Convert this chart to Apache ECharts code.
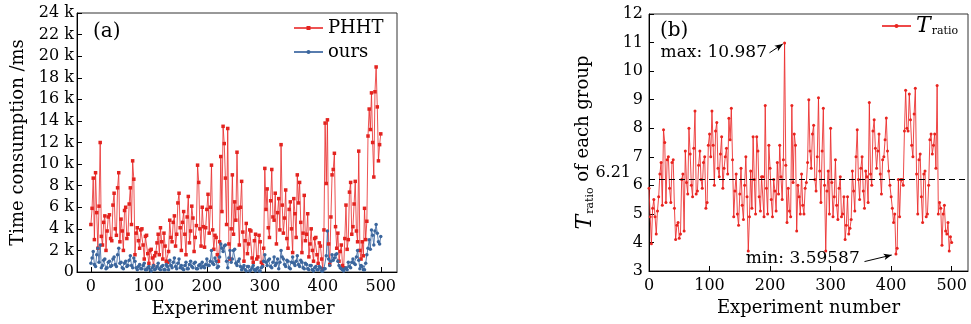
<!DOCTYPE html>
<html>
<head>
<meta charset="utf-8">
<script src="https://cdn.jsdelivr.net/npm/echarts@6/dist/echarts.min.js"></script>
<style>
  html, body { margin: 0; padding: 0; background: #fff; }
  #chart { width: 971px; height: 324px; }
</style>
</head>
<body>
<div id="chart"></div>
<script>
// experiment numbers are sampled every 2nd run (0, 2, 4 ... 500)
const expStep = 2;
const expTicks = [0, 100, 200, 300, 400, 500];

// panel (a): time consumption in k ms
const phht = [
  4.4, 5.9, 8.7, 3.0, 9.2, 5.5, 2.2, 6.1, 12.0, 3.3,
  2.5, 4.6, 5.2, 2.0, 3.8, 5.1, 5.3, 3.1, 2.9, 6.2,
  7.3, 4.0, 3.4, 7.8, 9.2, 2.8, 4.9, 3.8, 2.0, 5.7,
  6.0, 3.1, 3.5, 6.3, 7.8, 4.4, 10.3, 8.6, 1.6, 3.6,
  4.1, 2.9, 2.2, 3.9, 4.0, 2.5, 1.2, 3.3, 3.4, 1.7,
  0.8, 2.0, 2.1, 1.3, 0.6, 1.5, 1.8, 2.7, 3.5, 1.6,
  4.1, 2.8, 1.2, 3.6, 2.4, 1.0, 0.9, 1.9, 4.8, 3.2,
  2.8, 4.6, 5.2, 2.4, 3.5, 6.4, 7.3, 4.1, 2.0, 4.6,
  5.6, 3.5, 1.6, 5.1, 7.0, 2.7, 3.8, 6.1, 5.0, 1.9,
  3.2, 4.3, 9.9, 8.3, 4.0, 2.4, 6.0, 4.2, 2.3, 4.1,
  5.8, 7.2, 3.6, 6.0, 9.9, 3.9, 2.1, 3.4, 3.2, 1.6,
  1.0, 2.8, 10.7, 5.6, 13.5, 11.9, 8.7, 4.4, 13.3, 2.6,
  1.2, 4.0, 9.0, 3.5, 6.5, 4.8, 11.1, 5.9, 2.5, 6.0,
  8.4, 3.7, 1.0, 2.9, 4.5, 1.7, 2.6, 3.9, 3.8, 1.3,
  0.9, 2.9, 3.5, 1.2, 1.4, 3.4, 2.8, 0.9, 0.6, 2.2,
  9.6, 5.8, 7.7, 4.1, 3.2, 6.6, 9.5, 5.1, 4.8, 7.3,
  2.6, 5.5, 6.8, 3.9, 11.8, 6.2, 3.6, 5.0, 7.6, 3.1,
  2.2, 5.8, 6.5, 4.0, 1.8, 6.8, 5.4, 3.2, 9.0, 6.4,
  8.3, 4.6, 1.8, 3.6, 7.1, 2.9, 3.5, 5.4, 1.4, 2.6,
  4.0, 2.0, 1.0, 3.1, 3.2, 1.6, 0.8, 2.7, 2.4, 1.2,
  0.3, 3.9, 13.8, 8.2, 14.1, 2.6, 0.7, 5.1, 9.0, 9.5,
  11.0, 4.2, 2.2, 3.6, 1.0, 1.9, 2.5, 0.6, 0.4, 3.1,
  6.2, 2.1, 3.0, 7.4, 8.3, 3.5, 4.2, 6.3, 8.4, 3.8,
  2.8, 11.2, 2.0, 1.2, 2.8, 1.5, 5.9, 3.0, 4.7, 12.6,
  15.1, 13.2, 16.6, 12.0, 8.8, 16.7, 19.0, 15.3, 10.3, 11.8,
  12.8
];
const ours = [
  0.8, 1.3, 1.9, 0.7, 0.5, 1.6, 2.2, 0.9, 2.5, 0.4,
  0.6, 1.1, 1.2, 0.3, 0.4, 0.9, 1.0, 0.5, 0.6, 1.2,
  1.4, 0.7, 0.5, 1.6, 2.2, 0.8, 0.9, 0.4, 0.3, 0.8,
  1.0, 0.5, 0.6, 1.1, 1.5, 0.6, 0.4, 1.3, 1.0, 0.4,
  0.2, 0.5, 0.7, 0.3, 0.3, 0.6, 0.8, 0.2, 0.2, 0.4,
  0.5, 0.2, 0.1, 0.4, 0.6, 0.2, 0.3, 0.5, 0.8, 0.3,
  0.2, 0.5, 0.6, 0.2, 0.2, 0.7, 0.5, 0.2, 1.1, 0.6,
  0.4, 0.9, 1.3, 0.5, 0.3, 0.8, 1.2, 0.4, 0.6, 0.3,
  0.2, 0.6, 0.9, 0.3, 0.3, 0.7, 1.0, 0.5, 0.4, 0.8,
  0.9, 0.3, 0.3, 0.6, 0.7, 0.4, 0.9, 0.5, 0.4, 0.7,
  1.2, 0.6, 0.6, 1.0, 2.0, 0.8, 0.7, 1.3, 1.0, 0.4,
  0.5, 1.4, 2.6, 2.2, 1.9, 2.4, 2.5, 1.0, 0.4, 1.3,
  2.0, 0.9, 1.2, 2.0, 2.1, 0.8, 0.6, 1.0, 1.2, 0.5,
  0.2, 0.4, 0.6, 0.2, 0.1, 0.5, 0.5, 0.1, 0.2, 0.4,
  0.6, 0.2, 0.1, 0.3, 0.4, 0.1, 0.1, 0.4, 0.5, 1.0,
  1.6, 0.9, 0.6, 1.1, 1.2, 0.5, 0.4, 0.9, 1.4, 0.6,
  0.8, 1.2, 0.3, 0.9, 2.0, 1.4, 1.2, 0.7, 0.5, 1.1,
  1.0, 0.4, 0.3, 0.9, 1.4, 0.8, 0.6, 1.0, 1.5, 0.7,
  0.5, 1.1, 0.9, 0.4, 0.3, 0.8, 0.7, 0.3, 0.2, 0.6,
  0.6, 0.2, 0.1, 0.4, 0.5, 0.2, 0.2, 0.5, 0.4, 0.1,
  0.1, 0.3, 0.3, 1.5, 3.8, 1.2, 0.6, 1.0, 1.6, 1.1,
  1.3, 1.6, 1.7, 1.0, 0.6, 0.4, 0.3, 0.2, 0.1, 0.3,
  0.4, 0.2, 0.9, 0.5, 0.4, 0.9, 1.2, 0.8, 0.7, 1.4,
  2.0, 1.1, 0.3, 0.6, 0.5, 0.2, 0.2, 0.8, 1.6, 2.2,
  3.0, 2.1, 3.9, 3.4, 2.5, 3.8, 4.4, 3.6, 2.8, 2.6,
  3.3
];

// panel (b): T_ratio of each group
const tRatio = [
  5.9, 4.9, 3.95, 5.2, 5.5, 4.9, 4.3, 5.1, 5.6, 6.4,
  6.8, 5.3, 7.95, 7.5, 5.4, 6.9, 7.0, 5.9, 5.4, 6.8,
  6.9, 5.2, 4.1, 4.6, 4.7, 4.15, 4.3, 6.2, 6.4, 4.4,
  7.2, 6.1, 5.7, 8.0, 7.1, 6.0, 5.6, 7.3, 8.6, 5.7,
  5.8, 6.7, 7.2, 6.2, 5.9, 6.8, 7.0, 5.2, 5.4, 7.4,
  7.8, 7.0, 8.6, 7.4, 6.0, 7.9, 8.2, 6.6, 6.3, 7.1,
  7.7, 5.9, 6.6, 7.0, 7.3, 6.4, 8.35, 7.6, 8.7, 6.9,
  4.9, 5.8, 6.4, 5.0, 4.6, 5.7, 6.6, 5.3, 4.8, 6.0,
  7.0, 5.6, 3.7, 4.9, 6.5, 5.2, 7.7, 6.2, 5.0, 7.7,
  7.2, 5.6, 5.1, 6.3, 6.3, 4.9, 8.8, 5.9, 5.0, 7.4,
  6.6, 5.5, 4.9, 6.2, 5.8, 5.1, 6.8, 5.7, 7.4, 6.3,
  5.5, 6.9, 10.987, 6.7, 4.7, 5.9, 5.1, 4.9, 8.8, 6.1,
  7.8, 7.4, 4.4, 6.0, 5.6, 5.0, 6.4, 5.3, 5.0, 5.9,
  6.1, 6.8, 9.0, 7.2, 6.6, 7.8, 8.1, 6.2, 5.8, 7.0,
  9.07, 6.5, 5.4, 7.2, 8.7, 6.0, 3.7, 5.8, 6.5, 5.0,
  8.0, 6.1, 4.9, 5.6, 6.9, 5.3, 4.8, 5.9, 6.3, 4.9,
  5.0, 5.6, 4.1, 4.6, 5.6, 4.3, 4.5, 4.8, 6.5, 5.8,
  5.1, 7.0, 7.95, 6.2, 5.5, 6.6, 7.0, 5.8, 5.2, 6.5,
  6.3, 5.4, 8.9, 6.4, 6.0, 7.9, 8.3, 7.3, 6.6, 7.2,
  7.8, 6.4, 5.7, 6.9, 7.0, 7.6, 8.36, 7.2, 6.5, 6.0,
  5.6, 5.2, 4.7, 5.0, 3.59587, 3.8, 6.2, 4.9, 6.2, 6.2,
  6.0, 7.9, 9.33, 8.0, 7.9, 9.2, 8.3, 7.4, 7.0, 8.5,
  9.4, 6.4, 5.0, 6.9, 7.1, 5.6, 4.7, 6.4, 6.5, 4.9,
  5.0, 6.0, 7.6, 7.8, 7.1, 7.4, 7.8, 6.6, 9.5, 5.0,
  5.4, 5.2, 3.9, 5.0, 5.3, 4.4, 4.3, 4.7, 3.7, 4.2,
  4.0
];
const meanRatio = 6.21;

// annotation text anchors and arrows (data coords)
const maxNote = { text: 'max: 10.987', at: [107, 10.64], from: [199, 10.64], to: [221, 10.95] };
const minNote = { text: 'min: 3.59587', at: [254, 3.42], from: [356, 3.33], to: [401, 3.56] };

const FONT = '"DejaVu Serif", serif';
const pairs = arr => arr.map((v, i) => [i * expStep, v]);

const chart = echarts.init(document.getElementById('chart'));

const axisCommon = {
  axisLine: { onZero: false, lineStyle: { color: '#000', width: 1 } },
  axisTick: { inside: true, length: 5, lineStyle: { color: '#000' } },
  splitLine: { show: false },
  nameTextStyle: { fontFamily: FONT, fontSize: 18, color: '#000' }
};
const tickLabel = { fontFamily: FONT, fontSize: 16, color: '#000' };
const ratioRich = {
  t: { fontFamily: FONT, fontStyle: 'italic', fontSize: 22, lineHeight: 22, verticalAlign: 'top', color: '#000' },
  s: { fontFamily: FONT, fontSize: 11, lineHeight: 11, verticalAlign: 'bottom', padding: [14, 0, 0, 1], color: '#000' },
  n: { fontFamily: FONT, fontSize: 18, lineHeight: 22, verticalAlign: 'top', color: '#000' }
};
const panelTags = [
  { type: 'text', left: 93, top: 22, style: { text: '(a)', fontFamily: FONT, fontSize: 20, fill: '#000' } },
  { type: 'text', left: 660, top: 21, style: { text: '(b)', fontFamily: FONT, fontSize: 20, fill: '#000' } }
];

chart.setOption({
  animation: false,
  grid: [
    { left: 77, top: 13, width: 320, height: 259, show: true, borderColor: '#333', borderWidth: 1 },
    { left: 649, top: 14, width: 319, height: 257, show: true, borderColor: '#333', borderWidth: 1 }
  ],
  xAxis: [
    Object.assign({}, axisCommon, {
      gridIndex: 0, type: 'value', min: -24, max: 528,
      axisTick: Object.assign({}, axisCommon.axisTick, { customValues: expTicks }),
      axisLabel: Object.assign({}, tickLabel, { customValues: expTicks, margin: 7 }),
      name: 'Experiment number', nameLocation: 'middle', nameGap: 26,
      nameTextStyle: { fontFamily: FONT, fontSize: 18, color: '#000', padding: [0, 0, 0, 12] }
    }),
    Object.assign({}, axisCommon, {
      gridIndex: 1, type: 'value', min: 0, max: 527,
      axisTick: Object.assign({}, axisCommon.axisTick, { customValues: expTicks }),
      axisLabel: Object.assign({}, tickLabel, { customValues: expTicks, margin: 7 }),
      name: 'Experiment number', nameLocation: 'middle', nameGap: 26
    })
  ],
  yAxis: [
    Object.assign({}, axisCommon, {
      gridIndex: 0, type: 'value', min: 0, max: 24, interval: 2,
      axisLabel: Object.assign({}, tickLabel, {
        margin: 3,
        formatter: v => (v === 0 ? '0' : v + ' k')
      }),
      name: 'Time consumption /ms', nameLocation: 'middle', nameGap: 50
    }),
    Object.assign({}, axisCommon, {
      gridIndex: 1, type: 'value', min: 3, max: 12, interval: 1,
      axisLabel: Object.assign({}, tickLabel, { margin: 6 }),
      name: '{t|T}{s|ratio}{n| of each group}', nameLocation: 'middle', nameGap: 53,
      nameTextStyle: { fontFamily: FONT, fontSize: 18, color: '#000', rich: ratioRich }
    })
  ],
  legend: [
    {
      data: ['PHHT', 'ours'], orient: 'vertical', left: 293, top: 19, padding: 0,
      itemWidth: 29, itemHeight: 5, itemGap: 6,
      textStyle: { fontFamily: FONT, fontSize: 18, color: '#000' }
    },
    {
      data: ['T_ratio'], left: 881, top: 12, padding: 0,
      itemWidth: 29, itemHeight: 5,
      formatter: () => '{t|T}{s|ratio}',
      textStyle: { rich: ratioRich }
    }
  ],
  graphic: panelTags,
  series: [
    {
      name: 'PHHT', type: 'line', xAxisIndex: 0, yAxisIndex: 0,
      data: pairs(phht),
      symbol: 'rect', symbolSize: 3.5, showAllSymbol: true,
      lineStyle: { width: 1, color: 'rgba(232,40,40,0.8)' },
      itemStyle: { color: '#e3231f' }
    },
    {
      name: 'ours', type: 'line', xAxisIndex: 0, yAxisIndex: 0,
      data: pairs(ours),
      symbol: 'circle', symbolSize: 3.5, showAllSymbol: true,
      lineStyle: { width: 1, color: 'rgba(70,110,165,0.9)' },
      itemStyle: { color: '#3b669d' }
    },
    {
      name: 'T_ratio', type: 'line', xAxisIndex: 1, yAxisIndex: 1,
      data: pairs(tRatio),
      symbol: 'circle', symbolSize: 3, showAllSymbol: true,
      lineStyle: { width: 1, color: 'rgba(235,40,40,0.85)' },
      itemStyle: { color: '#e8241f' },
      markLine: {
        silent: true, symbol: 'none', animation: false,
        label: { show: false },
        data: [
          { yAxis: meanRatio, lineStyle: { type: [6, 4], color: '#000', width: 1 } },
          [
            { coord: maxNote.from, symbol: 'none', lineStyle: { type: 'solid', color: '#000', width: 1 } },
            { coord: maxNote.to, symbol: 'arrow', symbolSize: [5, 8] }
          ],
          [
            { coord: minNote.from, symbol: 'none', lineStyle: { type: 'solid', color: '#000', width: 1 } },
            { coord: minNote.to, symbol: 'arrow', symbolSize: [5, 8] }
          ]
        ]
      },
      markPoint: {
        silent: true, symbol: 'rect', symbolSize: 1,
        itemStyle: { color: 'rgba(0,0,0,0)' },
        label: { show: true, position: 'inside', fontFamily: FONT, fontSize: 17, color: '#000' },
        data: [
          { coord: maxNote.at, label: { formatter: maxNote.text } },
          { coord: minNote.at, label: { formatter: minNote.text } }
        ]
      }
    }
  ]
});

// "6.21" label just above-left of the dashed mean line, placed through the axis scale
const meanPt = chart.convertToPixel({ xAxisIndex: 1, yAxisIndex: 1 }, [0, meanRatio]);
chart.setOption({
  graphic: panelTags.concat([{
    type: 'text', x: meanPt[0] - 18, y: meanPt[1] - 6,
    style: { text: String(meanRatio), fontFamily: FONT, fontSize: 16, fill: '#000', align: 'right', verticalAlign: 'middle' }
  }])
});
</script>
</body>
</html>
